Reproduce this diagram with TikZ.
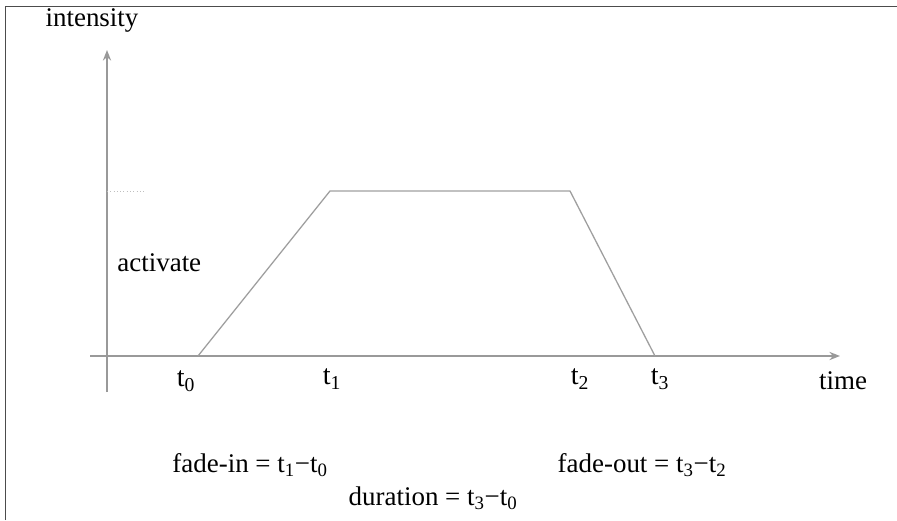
\documentclass[tikz,border=0pt]{standalone}
\usepackage{fontspec}
\setmainfont{Liberation Serif}
\usetikzlibrary{positioning, arrows.meta}

\begin{document}
\begin{tikzpicture}[
    x=0.03cm, y=-0.03cm,
    frame/.style={draw=black!70, line width=0.8pt},
    axis/.style={draw=gray!80, line width=1.5pt, -{Stealth[length=9pt, width=7pt]}},
    ramp/.style={draw=gray!75, line width=1.1pt},
    guide/.style={draw=gray!50, line width=0.8pt, dotted},
    lbl/.style={font=\fontsize{23}{25}\selectfont, inner sep=1pt},
    tlbl/.style={font=\fontsize{24}{26}\selectfont, inner sep=1pt}
]
\useasboundingbox (0,0) rectangle (897,520);

% Rahmen
\coordinate (fbl) at (5,520);
\coordinate (ftl) at (5,6);
\coordinate (ftr) at (897,6);
\draw[frame] (fbl) -- (ftl) -- (ftr);

% Achsen
\coordinate (ybot) at (107,392);
\coordinate (ytop) at (107,50);
\coordinate (xleft) at (90,356);
\coordinate (xright) at (840,356);
\draw[axis] (ybot) -- (ytop);
\draw[axis] (xleft) -- (xright);

% Verlauf
\coordinate (p0) at (198,356);
\coordinate (p1) at (330,191);
\coordinate (p2) at (570,191);
\coordinate (p3) at (655,356);
\draw[ramp] (p0) -- (p1) -- (p2) -- (p3);

% Hilfslinie
\coordinate (g0) at (107,191);
\coordinate (g1) at (145,191);
\draw[guide] (g0) -- (g1);

% Beschriftung
\node[lbl] (intensity) at (92,20) {intensity};
\node[lbl, anchor=west] (activate) at (116,263) {activate};
\node[lbl] (time) at (843,381) {time};

\node[tlbl] (t0) at (186,381) {t\textsubscript{0}};
\node[tlbl] (t1) at (332,379) {t\textsubscript{1}};
\node[tlbl] (t2) at (580,379) {t\textsubscript{2}};
\node[tlbl] (t3) at (660,379) {t\textsubscript{3}};

\node[lbl] (fadein) at (250,465) {fade-in = t\textsubscript{1}−t\textsubscript{0}};
\node[lbl] (fadeout) at (642,465) {fade-out = t\textsubscript{3}−t\textsubscript{2}};
\node[lbl] (duration) at (433,498) {duration = t\textsubscript{3}−t\textsubscript{0}};

\end{tikzpicture}
\end{document}
